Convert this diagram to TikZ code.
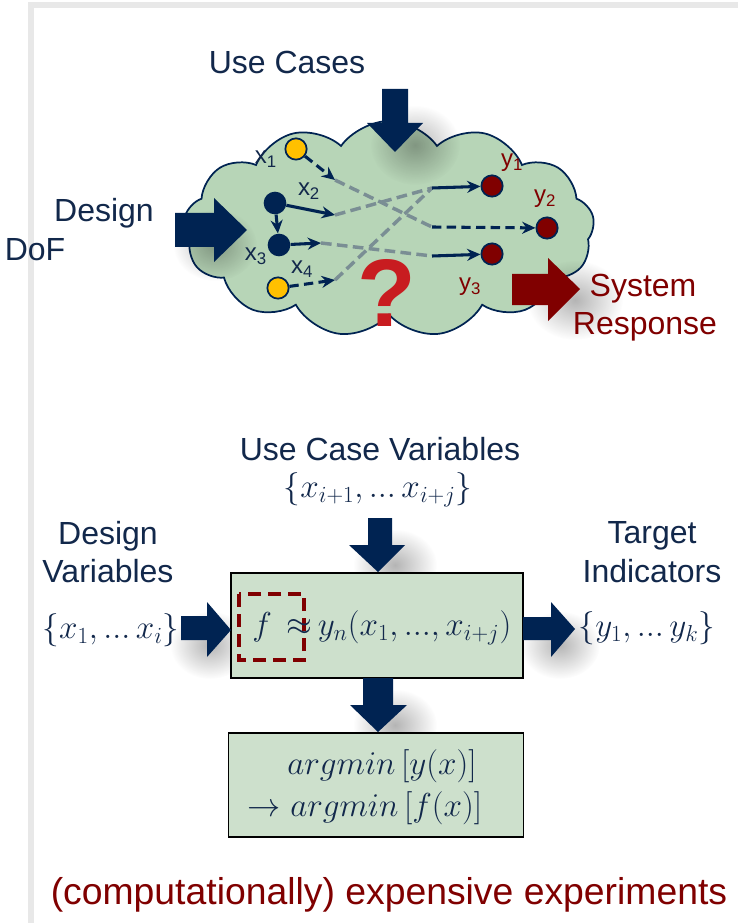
\documentclass[tikz,border=0pt]{standalone}
\usepackage{fontspec}
\setmainfont{Liberation Sans}
\usetikzlibrary{shapes.symbols,arrows.meta,fadings}
\definecolor{navy}{RGB}{0,35,82}
\definecolor{ink}{RGB}{18,40,75}
\definecolor{darkred}{RGB}{128,0,0}
\definecolor{cloudgreen}{RGB}{183,213,183}
\definecolor{boxgreen}{RGB}{205,224,204}
\definecolor{dotyellow}{RGB}{255,192,0}
\definecolor{linkgray}{RGB}{122,142,148}
\definecolor{qred}{RGB}{200,28,32}
\tikzfading[name=softspot, inner color=transparent!35, outer color=transparent!100]

\tikzset{
  lbl/.style={text=ink, font=\fontsize{24}{29}\selectfont, align=center, inner sep=0pt},
  redlbl/.style={lbl, text=darkred},
  mth/.style={text=ink, font=\fontsize{23}{28}\selectfont, inner sep=0pt},
  var/.style={text=ink, font=\fontsize{18}{20}\selectfont, inner sep=0pt},
  yvar/.style={var, text=darkred},
  indot/.style={circle, draw=navy, line width=1.3pt, fill=dotyellow, minimum size=16pt, inner sep=0pt},
  ctldot/.style={circle, fill=navy, minimum size=17pt, inner sep=0pt},
  outdot/.style={circle, draw=navy, line width=1.3pt, fill=darkred, minimum size=16pt, inner sep=0pt},
  link/.style={navy, line width=2.3pt, -{Stealth[length=10pt,width=9pt]}},
  dlink/.style={link, dash pattern=on 7pt off 4pt},
  hidden/.style={linkgray, line width=2.6pt, dash pattern=on 8pt off 4pt},
  modelbox/.style={draw=black, line width=1.2pt, fill=boxgreen},
  blur/.style={black, opacity=0.45, path fading=softspot},
}

\begin{document}
\begin{tikzpicture}[x=0.75pt,y=-0.75pt]
\useasboundingbox (0,0) rectangle (738,923);
% slide frame
\draw [gray!18, line width=4pt] (31,923) -- (31,5) -- (738,5);

% cloud
\node [cloud, cloud puffs=13, cloud puff arc=110, aspect=2.1, draw=navy, line width=1.3pt, fill=cloudgreen,
       minimum width=308pt, minimum height=162pt] (cloud) at (389,229) {};

% shadows of the block arrows
\fill [blur] (415,145) ellipse (45 and 40);
\fill [blur] (215,245) ellipse (42 and 36);
\fill [blur] (575,300) ellipse (48 and 40);

% block arrows of the top part
\fill [navy] (382,89) -- (408,89) -- (408,123) -- (423,123) -- (395,152) -- (367,123) -- (382,123) -- cycle;
\fill [navy] (175,213) -- (214,213) -- (214,198) -- (247,230) -- (214,262) -- (214,247) -- (175,247) -- cycle;
\fill [darkred] (512,274) -- (548,274) -- (548,258) -- (580,289) -- (548,321) -- (548,305) -- (512,305) -- cycle;

\node [lbl] (usecases) at (287,62) {Use Cases};
\node [lbl] (design) at (104,213) {Design};
\node [lbl] (dof) at (35,250) {DoF};
\node [redlbl] (system) at (643,289) {System};
\node [redlbl] (response) at (645,327) {Response};

% question mark
\node [text=qred, font=\bfseries\fontsize{72}{72}\selectfont] (quest) at (387,293) {?};

% inputs and outputs
\node [indot] (x1) at (296,149) {};
\node [ctldot] (x2) at (275,203) {};
\node [ctldot] (x3) at (279,245) {};
\node [indot] (x4) at (278,288) {};
\node [outdot] (y1) at (492,186) {};
\node [outdot] (y2) at (547,228) {};
\node [outdot] (y3) at (492,254) {};

\node [var] at (266,159) {x\textsubscript{1}};
\node [var] at (309,191) {x\textsubscript{2}};
\node [var] at (256,256) {x\textsubscript{3}};
\node [var] at (302,269) {x\textsubscript{4}};
\node [yvar] at (512,163) {y\textsubscript{1}};
\node [yvar] at (545,199) {y\textsubscript{2}};
\node [yvar] at (470,287) {y\textsubscript{3}};

\coordinate (a1) at (335,180);
\coordinate (a2) at (335,215);
\coordinate (a3) at (321,243);
\coordinate (a4) at (335,280);
\coordinate (b1) at (432,188);
\coordinate (b2) at (432,227);
\coordinate (b3) at (432,256);

\draw [hidden] (a1) -- (b2);
\draw [hidden] (a2) -- (b1);
\draw [hidden] (a3) -- (b3);
\draw [hidden] (a4) -- (b1);
\draw [dlink] (x1) -- (a1);
\draw [link] (x2) -- (a2);
\draw [link] (x2) -- (x3);
\draw [link] (x3) -- (a3);
\draw [dlink] (x4) -- (a4);
\draw [link] (b1) -- (y1);
\draw [dlink] (b2) -- (y2);
\draw [link] (b3) -- (y3);

% lower part
\fill [blur] (395,565) ellipse (42 and 36);
\fill [blur] (210,645) ellipse (40 and 34);
\fill [blur] (560,645) ellipse (40 and 34);
\fill [blur] (395,725) ellipse (42 and 36);

\node [modelbox, minimum width=219pt, minimum height=79pt] (model) at (377,625.5) {};
\node [modelbox, minimum width=221pt, minimum height=78pt] (optim) at (376,785) {};

\fill [navy] (368,518) -- (392,518) -- (392,545) -- (405,545) -- (378,572) -- (349,545) -- (368,545) -- cycle;
\fill [navy] (181,616) -- (207,616) -- (207,602) -- (231,630) -- (207,657) -- (207,640) -- (181,640) -- cycle;
\fill [navy] (523,617) -- (551,617) -- (551,602) -- (575,629) -- (551,657) -- (551,640) -- (523,640) -- cycle;
\fill [navy] (363,678) -- (393,678) -- (393,705) -- (407,705) -- (378,732) -- (350,705) -- (363,705) -- cycle;

\draw [darkred, line width=3pt, dash pattern=on 10pt off 5pt] (239,594) rectangle (304,660);

\node [lbl] (ucvars) at (380,449) {Use Case Variables};
\node [mth] (ucset) at (378,490) {$\{x_{i+1},{\ldotp\!\ldotp\!\ldotp}\,x_{i+j}\}$};
\node [lbl] (dvars) at (108,552) {Design\\Variables};
\node [mth] (dset) at (111,630) {$\{x_1,{\ldotp\!\ldotp\!\ldotp}\,x_i\}$};
\node [lbl] (target) at (652,552) {Target\\Indicators};
\node [mth] (tset) at (647,628) {$\{y_1,{\ldotp\!\ldotp\!\ldotp}\,y_k\}$};
\node [mth, anchor=west] (approx) at (252,628) {$f\;\,{\approx}\,y_n(x_1,{\ldotp\!\ldotp\!\ldotp},x_{i+j})$};
\node [mth, font=\fontsize{25}{30}\selectfont] (argy) at (382,766) {$argmin\,[y(x)]$};
\node [mth, font=\fontsize{25}{30}\selectfont] (argf) at (365,808) {$\rightarrow argmin\,[f(x)]$};

\node [redlbl, font=\fontsize{28}{32}\selectfont] (expensive) at (389,895) {(computationally) expensive experiments};
\end{tikzpicture}
\end{document}
